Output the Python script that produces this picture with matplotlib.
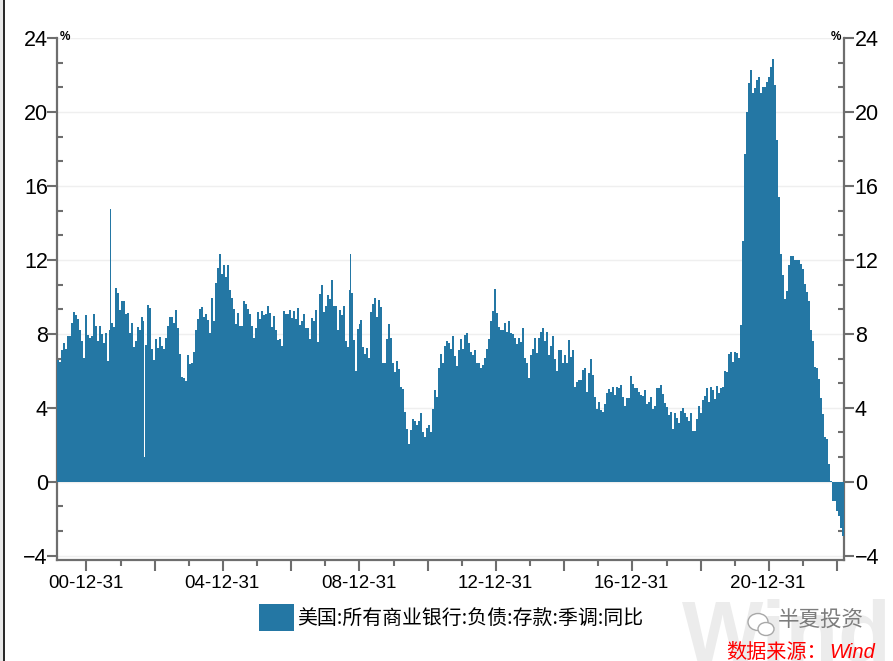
import matplotlib
matplotlib.use("Agg")
import matplotlib.pyplot as plt
from matplotlib.lines import Line2D
from matplotlib.patches import Ellipse, Rectangle
from matplotlib.transforms import ScaledTranslation
import pandas as pd

FIRST_DATE = "2000-03-01"
LAST_DATE = "2023-03-01"

yoy_2000_2004 = [
    6.6, 6.5, 7.1, 7.5, 7.2, 7.9, 7.9, 8.6, 9.2, 9.0, 8.8, 8.2, 7.6, 6.7, 9.0, 7.95, 7.8, 7.9, 9.05, 8.4,
    7.6, 8.4, 8.0, 7.5, 8.05, 6.55, 8.2, 8.6, 8.35, 10.5, 10.2, 9.3, 9.8, 9.8, 9.05, 9.15, 8.05, 8.6, 7.3, 7.6,
    8.35, 8.2, 8.9, 8.7, 7.4, 9.55, 9.4, 7.2, 6.6, 7.7, 7.25, 7.85, 7.35, 7.2, 7.8, 8.45, 8.9, 8.9, 8.6, 9.3,
    8.3, 6.9, 5.65, 5.6, 5.45, 6.85, 6.35, 6.4, 7.0, 8.2, 8.8, 9.35, 9.45, 8.9, 9.1, 8.75, 8.05, 9.95, 8.7, 10.75,
    11.55, 12.3, 11.25, 11.75, 11.05, 11.7, 10.35, 9.95, 9.35, 8.55,
]
yoy_2005_2009 = [
    9.15, 8.45, 8.45, 9.75, 9.6, 9.35, 9.05, 8.45, 7.8, 8.3, 9.2, 8.8, 9.25, 9.0, 9.05, 9.5, 9.15, 8.35, 8.95, 8.2,
    7.65, 7.7, 7.35, 9.25, 9.1, 9.05, 9.3, 8.85, 9.25, 8.8, 9.4, 8.5, 8.7, 9.1, 8.3, 8.3, 7.7, 8.85, 8.7, 9.3,
    7.55, 10.15, 10.65, 9.2, 9.5, 10.1, 9.9, 10.9, 9.5, 9.5, 8.2, 9.3, 9.0, 9.5, 7.6, 7.3, 10.35, 10.2, 7.65, 6.0,
    8.25, 8.55, 8.75, 7.3, 6.9, 7.25, 6.7, 9.2, 9.6, 9.95, 8.9, 9.85, 9.45, 6.4, 6.45, 7.7, 8.55, 7.75, 6.4, 5.95,
    6.55, 6.1, 5.15, 5.0, 3.75, 2.85, 2.05, 2.8, 3.4, 3.3, 3.05, 3.3, 3.7, 2.7, 2.4, 2.9, 3.05,
]
yoy_2010_2015 = [
    2.7, 3.95, 4.95, 4.6, 6.15, 6.9, 6.4, 7.35, 7.6, 7.5, 7.2, 7.9, 6.8, 6.25, 7.15, 7.7, 7.2, 7.95, 8.05, 7.5,
    7.0, 6.85, 7.1, 6.45, 6.45, 6.15, 6.3, 6.7, 7.2, 7.7, 8.7, 9.25, 10.4, 9.15, 8.35, 8.2, 8.2, 8.6, 8.1, 8.7,
    8.05, 8.0, 7.8, 7.45, 7.75, 7.55, 8.3, 6.7, 6.4, 5.6, 6.85, 7.2, 7.75, 6.95, 7.75, 8.1, 8.3, 7.6, 8.1, 6.85,
    7.35, 7.9, 6.65, 6.0, 7.1, 7.15, 6.4, 6.85, 6.4, 7.65, 6.75, 7.15, 5.1, 5.4, 5.5, 5.5, 6.05, 6.15, 4.85, 5.9,
    6.65, 5.75, 4.6, 3.95, 4.3, 3.9, 3.8, 4.2, 4.8, 5.0, 4.85, 5.15, 4.7, 5.15, 5.05, 5.25, 4.6, 4.1, 4.55, 4.55,
]
yoy_2016_2019 = [
    5.7, 5.3, 5.05, 5.05, 4.85, 4.7, 4.65, 4.95, 4.2, 4.3, 4.6, 3.95, 4.1, 5.05, 5.05, 5.25, 4.75, 4.25, 4.05, 3.6,
    3.75, 2.85, 3.7, 3.45, 3.2, 3.85, 4.0, 3.7, 3.5, 3.3, 3.7, 2.75, 2.75, 3.4, 4.1, 3.7, 4.4, 4.65, 5.05, 4.3,
    5.15, 4.95, 4.45, 5.2, 4.8, 5.05, 5.1, 6.0, 5.95, 6.9, 7.0, 6.5, 7.0, 6.95, 6.7, 8.5,
]
yoy_2020_2023 = [
    13.0, 17.75, 20.0, 21.55, 22.25, 21.0, 21.3, 21.75, 21.9, 21.0, 21.35, 21.35, 21.6, 21.9, 22.45, 22.85, 21.45, 18.5, 15.4, 12.3,
    11.2, 9.9, 10.3, 11.7, 12.2, 12.2, 12.0, 12.0, 12.0, 11.8, 11.5, 10.7, 10.25, 9.8, 8.2, 7.6, 6.2, 6.15, 5.55, 4.55,
    3.65, 2.4, 2.3, 0.95, 0.05, -1.05, -1.05, -1.6, -1.85, -2.5, -2.95,
]
yoy_values = yoy_2000_2004 + yoy_2005_2009 + yoy_2010_2015 + yoy_2016_2019 + yoy_2020_2023

spike_dates = ["2001-09-12", "2008-09-24"]
spike_values = [14.75, 12.3]
dip_date = "2002-09-11"
dip_value = 1.35
dip_neighbour = 8.7

y_major = [-4, 0, 4, 8, 12, 16, 20, 24]
label_years = [2000, 2004, 2008, 2012, 2016, 2020]
long_tick_years = list(range(2000, 2023, 2))
short_tick_years = list(range(2001, 2023, 2))
legend_label = "美国:所有商业银行:负债:存款:季调:同比"
unit_label = "%"
source_label = "数据来源："
source_brand = "Wind"
watermark_brand = "Wind"
account_label = "半夏投资"

BAR = "#2477a4"
AXIS = "#6e6e6e"
CJK = ["Noto Sans CJK SC", "DejaVu Sans"]
W, H = 893, 661

fig = plt.figure(figsize=(W / 100, H / 100), dpi=100, facecolor="white")
ax = fig.add_axes([57 / W, 1 - 560 / H, (843.7 - 57) / W, (560 - 38) / H])

dates = pd.date_range(FIRST_DATE, LAST_DATE, periods=len(yoy_values))
step_days = (dates[1] - dates[0]).total_seconds() / 86400

fig.text(682 / W, 1 - 661 / H, watermark_brand, family="Liberation Sans", weight="bold",
         fontsize=62, color="#ececec", ha="left", va="baseline", zorder=0)
ax.patch.set_alpha(0)

ax.bar(dates, yoy_values, width=step_days, color=BAR, linewidth=0, antialiased=False, zorder=3)
ax.bar(pd.to_datetime(spike_dates), spike_values, width=10.7, color=BAR, linewidth=0, zorder=3)
ax.bar(pd.to_datetime([dip_date]), [dip_neighbour - dip_value], bottom=[dip_value], width=10.7,
       color="white", linewidth=0, zorder=4)

ax.set_xlim(pd.Timestamp(FIRST_DATE) - pd.Timedelta(days=step_days / 2),
            pd.Timestamp(LAST_DATE) + pd.Timedelta(days=step_days / 2))
ax.set_ylim(-4.23, 24)

ax.set_yticks(y_major)
minor_y = [v + d for v in y_major[:-1] for d in (4 / 3, 8 / 3)]
ax.set_yticks(minor_y, minor=True)
ax.tick_params(axis="y", which="major", direction="out", left=True, right=True, labelleft=True,
               labelright=True, length=7, width=1.5, color=AXIS, labelsize=15.5, pad=1,
               labelfontfamily="Liberation Sans", labelcolor="black")
ax.tick_params(axis="y", which="minor", direction="in", left=True, right=True, length=4, width=1.5, color=AXIS)

ax.set_xticks(pd.to_datetime([f"{y}-12-31" for y in long_tick_years]))
ax.set_xticklabels([f"{str(y)[2:]}-12-31" if y in label_years else "" for y in long_tick_years])
ax.set_xticks(pd.to_datetime([f"{y}-12-31" for y in short_tick_years]), minor=True)
ax.tick_params(axis="x", which="major", direction="out", length=8, width=1.5, color=AXIS, labelsize=13.5,
               pad=3, labelfontfamily="Liberation Sans", labelcolor="black")
ax.tick_params(axis="x", which="minor", direction="out", length=4, width=1.5, color=AXIS)

# nudge the left-hand value labels towards the axis, and the date labels a touch left
nudge = ScaledTranslation(2 / 100, 0, fig.dpi_scale_trans)
for tick in ax.yaxis.get_major_ticks():
    tick.label1.set_transform(tick.label1.get_transform() + nudge)
nudge_x = ScaledTranslation(-1 / 100, 0, fig.dpi_scale_trans)
for tick in ax.xaxis.get_major_ticks():
    tick.label1.set_transform(tick.label1.get_transform() + nudge_x)

ax.grid(axis="y", which="major", color="#efefef", linewidth=1, zorder=1)
ax.set_axisbelow(True)
ax.spines["top"].set_visible(False)
for s in ("left", "right", "bottom"):
    ax.spines[s].set_color(AXIS)
    ax.spines[s].set_linewidth(1.6)

fig.text(64.5 / W, 1 - 37 / H, unit_label, family="Liberation Sans", weight="bold", fontsize=8.5, ha="center", va="center")
fig.text(836 / W, 1 - 37 / H, unit_label, family="Liberation Sans", weight="bold", fontsize=8.5, ha="center", va="center")

# legend
fig.add_artist(Rectangle((259 / W, 1 - 631 / H), 35 / W, 27 / H, transform=fig.transFigure, facecolor=BAR, edgecolor="none"))
fig.text(297 / W, 1 - 618.5 / H, legend_label, family=CJK, fontsize=14.3, ha="left", va="center", color="black")

# left window edge
fig.add_artist(Rectangle((0, 0), 3 / W, 1, transform=fig.transFigure, facecolor="#e8e8e8", edgecolor="none"))
fig.add_artist(Line2D([3.8 / W, 3.8 / W], [0, 1], transform=fig.transFigure, color="black", linewidth=1.2))

# account mark
for cx, cy, w_, h_ in [(758, 622, 20, 17), (766, 629, 16, 13)]:
    fig.add_artist(Ellipse((cx / W, 1 - cy / H), w_ / W, h_ / H, transform=fig.transFigure,
                           facecolor="white", edgecolor="#a8a8a8", linewidth=1))
fig.text(821 / W, 1 - 621 / H, account_label, family=CJK, fontsize=15.5, color="#7d7d7d", ha="center", va="center")

# source
fig.text(726 / W, 1 - 653 / H, source_label, family=CJK, fontsize=14.5, color="#ff0000", ha="left", va="center")
fig.text(829 / W, 1 - 653 / H, source_brand, family="Liberation Sans", style="italic", fontsize=14.5, color="#ff0000", ha="left", va="center")

fig.savefig("out.png", dpi=100, facecolor="white")
